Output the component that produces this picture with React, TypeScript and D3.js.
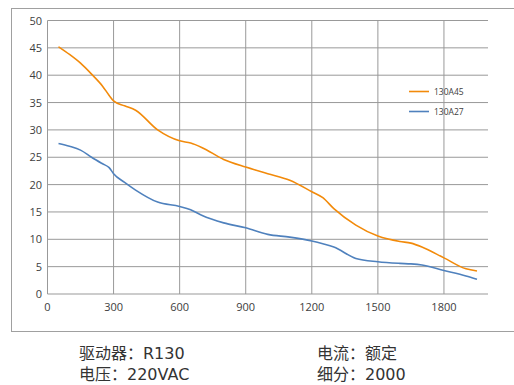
import React from "react";
import * as d3 from "d3";

const speeds = [50,100,150,200,250,280,300,350,400,500,600,650,700,800,900,1000,1100,1200,1250,1300,1400,1500,1600,1650,1700,1800,1900,1950];
const torqueA45 = [45.2,43.8,42.2,40.2,38.0,36.3,35.3,34.4,33.6,30.0,28.0,27.6,26.8,24.6,23.2,22.0,20.8,18.7,17.6,15.6,12.6,10.6,9.6,9.3,8.6,6.6,4.6,4.2];
const torqueA27 = [27.5,27.0,26.3,25.0,23.8,23.1,22.0,20.4,19.0,16.8,16.0,15.4,14.4,13.0,12.1,10.9,10.4,9.7,9.2,8.6,6.5,5.9,5.6,5.5,5.3,4.3,3.3,2.7];
const seriesNames = ["130A45", "130A27"];
const seriesColors = ["#f28a0a", "#4f81bd"];
const xTicks = [0,300,600,900,1200,1500,1800];
const yTicks = [0,5,10,15,20,25,30,35,40,45,50];
const infoLeft = ["驱动器：R130", "电压：220VAC"];
const infoRight = ["电流：额定", "细分：2000"];

export default function App() {
  const x = d3.scaleLinear().domain([0, 2000]).range([47.5, 488]);
  const y = d3.scaleLinear().domain([0, 50]).range([294, 20.5]);
  const line = d3.line<number>()
    .x((_, i) => x(speeds[i]))
    .y((d) => y(d))
    .curve(d3.curveMonotoneX);
  const series = [torqueA45, torqueA27];
  const font = "'Open Sans', 'Noto Sans', sans-serif";
  const cjk = "'DejaVu Sans', 'Noto Sans CJK SC', sans-serif";
  return (
    <svg width={514} height={385} style={{ position: "absolute", left: 0, top: 0, background: "#fff" }}>
      <rect x={11.5} y={8.5} width={520} height={323} fill="#fff" stroke="#a0a0a0" strokeWidth={1} />
      {yTicks.map((t) => (
        <line key={"h" + t} x1={x(0)} x2={x(2000)} y1={y(t)} y2={y(t)} stroke="#999" strokeWidth={1} />
      ))}
      {xTicks.map((t) => (
        <line key={"v" + t} x1={x(t)} x2={x(t)} y1={y(0)} y2={y(50)} stroke="#999" strokeWidth={1} />
      ))}
      {yTicks.map((t) => (
        <text key={"yl" + t} x={42} y={y(t) + 4} textAnchor="end" fontSize={11} fontFamily={font} fill="#404040">{t}</text>
      ))}
      {xTicks.map((t) => (
        <text key={"xl" + t} x={x(t)} y={311} textAnchor="middle" fontSize={11} fontFamily={font} fill="#404040">{t}</text>
      ))}
      {series.map((s, i) => (
        <path key={"s" + i} d={line(s) || ""} fill="none" stroke={seriesColors[i]} strokeWidth={1.6} />
      ))}
      {seriesNames.map((n, i) => (
        <g key={"lg" + i} transform={`translate(409, ${91.5 + i * 20})`}>
          <line x1={0} x2={20} y1={0} y2={0} stroke={seriesColors[i]} strokeWidth={1.6} />
          <text x={25} y={3} fontSize={8.5} fontFamily={font} fill="#404040">{n}</text>
        </g>
      ))}
      {infoLeft.map((t, i) => (
        <text key={"il" + i} x={79} y={359 + i * 21} fontSize={16} fontFamily={cjk} fill="#333">{t}</text>
      ))}
      {infoRight.map((t, i) => (
        <text key={"ir" + i} x={317} y={359 + i * 21} fontSize={16} fontFamily={cjk} fill="#333">{t}</text>
      ))}
    </svg>
  );
}
